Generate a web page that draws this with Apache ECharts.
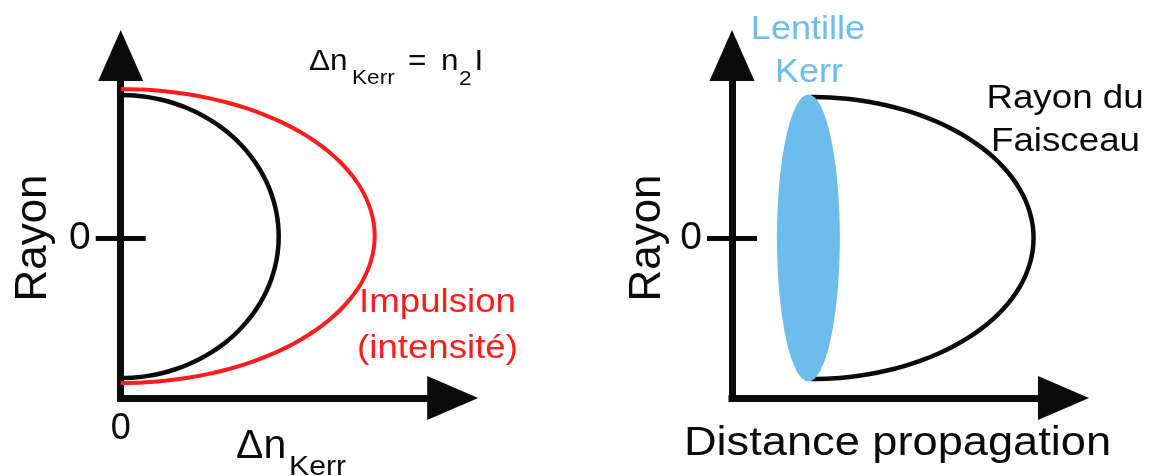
<!DOCTYPE html>
<html>
<head>
<meta charset="utf-8">
<script src="https://cdn.jsdelivr.net/npm/echarts@6/dist/echarts.min.js"></script>
<style>
html,body{margin:0;padding:0;background:#ffffff;}
#chart{width:1149px;height:476px;}
</style>
</head>
<body>
<div id="chart"></div>
<script>
// ---------- data (arbitrary units) ----------
// Left panel, black curve: refractive index change (x) versus radius (y)
const kerrRadius = [1.430, 1.425, 1.409, 1.382, 1.345, 1.297, 1.240, 1.174, 1.099, 1.016, 0.925, 0.827, 0.723, 0.613, 0.499, 0.381, 0.261, 0.138, 0.015,
                    -0.108, -0.231, -0.351, -0.469, -0.583, -0.693, -0.797, -0.895, -0.986, -1.069, -1.144, -1.210, -1.267, -1.315, -1.352, -1.379, -1.395, -1.400];
const kerrIndex  = [0.000, 0.138, 0.274, 0.409, 0.540, 0.668, 0.790, 0.906, 1.016, 1.117, 1.210, 1.294, 1.368, 1.432, 1.485, 1.526, 1.556, 1.574, 1.580,
                    1.574, 1.556, 1.526, 1.485, 1.432, 1.368, 1.294, 1.210, 1.117, 1.016, 0.906, 0.790, 0.668, 0.540, 0.409, 0.274, 0.138, 0.000];
// Left panel, red curve: pulse intensity profile
const pulseRadius = [1.490, 1.484, 1.468, 1.440, 1.401, 1.352, 1.293, 1.224, 1.146, 1.059, 0.965, 0.863, 0.755, 0.641, 0.523, 0.400, 0.275, 0.148, 0.020,
                     -0.108, -0.235, -0.360, -0.483, -0.601, -0.715, -0.823, -0.925, -1.019, -1.106, -1.184, -1.253, -1.312, -1.361, -1.400, -1.428, -1.444, -1.450];
const pulseValue  = [0.000, 0.221, 0.441, 0.657, 0.869, 1.073, 1.270, 1.457, 1.633, 1.796, 1.946, 2.081, 2.200, 2.302, 2.387, 2.453, 2.501, 2.530, 2.540,
                     2.530, 2.501, 2.453, 2.387, 2.302, 2.200, 2.081, 1.946, 1.796, 1.633, 1.457, 1.270, 1.073, 0.869, 0.657, 0.441, 0.221, 0.000];
// Right panel: beam radius versus propagation distance
const beamRadius   = [1.410, 1.405, 1.389, 1.362, 1.325, 1.278, 1.221, 1.155, 1.080, 0.997, 0.906, 0.809, 0.705, 0.596, 0.482, 0.365, 0.245, 0.123, 0.000,
                      -0.123, -0.245, -0.365, -0.482, -0.596, -0.705, -0.809, -0.906, -0.997, -1.080, -1.155, -1.221, -1.278, -1.325, -1.362, -1.389, -1.405, -1.410];
const beamDistance = [0.790, 0.984, 1.177, 1.367, 1.553, 1.732, 1.905, 2.069, 2.223, 2.367, 2.498, 2.617, 2.721, 2.811, 2.886, 2.944, 2.986, 3.012, 3.020,
                      3.012, 2.986, 2.944, 2.886, 2.811, 2.721, 2.617, 2.498, 2.367, 2.223, 2.069, 1.905, 1.732, 1.553, 1.367, 1.177, 0.984, 0.790];
// Kerr lens: [centre distance, centre radius, half width, half height]
const kerrLens     = [[0.765, 0.0, 0.315, 1.435]];
// tick values shown on the axes
const radiusTicks  = [0];
const indexTicks   = [0];
const tickLabels   = ['0'];

// ---------- styling ----------
const FONT = '"Liberation Sans", Arial, Helvetica, sans-serif';
const INK = '#0b0b0b';
const RED = '#ff1c1c';
const BLUE = '#6dbcec';
const Y_MIN = -1.60, Y_MAX = 1.825, X_MAX = 3.32;

function pairs(xs, ys) { return xs.map((x, i) => [x, ys[i]]); }

function txt(text, x, y, size, o) {
  o = o || {};
  return {
    type: 'text', x: x, y: y,
    scaleX: o.sx || 1, scaleY: o.sy || 1,
    rotation: o.rot || 0,
    z: 100,
    style: {
      text: text, fontSize: size, fontFamily: FONT,
      fill: o.fill || INK, align: o.align || 'left', verticalAlign: 'middle'
    }
  };
}

function xAxisCfg(gridIndex, showLabel) {
  return {
    type: 'value', gridIndex: gridIndex, min: 0, max: X_MAX,
    axisLine: { show: true, onZero: false, symbol: ['none', 'triangle'], symbolSize: [44, 51],
      lineStyle: { color: INK, width: 7, cap: 'square' } },
    axisTick: { show: false },
    splitLine: { show: false },
    axisLabel: { show: showLabel, customValues: indexTicks, formatter: (v) => tickLabels[0],
      fontSize: 36, fontFamily: FONT, color: INK, margin: 13 }
  };
}
function yAxisMain(gridIndex) {
  return {
    type: 'value', gridIndex: gridIndex, min: Y_MIN, max: Y_MAX, position: 'left', offset: 0,
    axisLine: { show: true, onZero: false, symbol: ['none', 'triangle'], symbolSize: [45, 51],
      lineStyle: { color: INK, width: 7, cap: 'square' } },
    axisTick: { show: true, customValues: radiusTicks, length: 25, lineStyle: { color: INK, width: 5 } },
    splitLine: { show: false },
    axisLabel: { show: true, customValues: radiusTicks, formatter: (v) => tickLabels[0],
      fontSize: 39, fontFamily: FONT, color: INK, margin: 30 }
  };
}
function yAxisInner(gridIndex) {
  return {
    type: 'value', gridIndex: gridIndex, min: Y_MIN, max: Y_MAX, position: 'left', offset: 0,
    axisLine: { show: false, onZero: false },
    axisTick: { show: true, inside: true, customValues: radiusTicks, length: 25, lineStyle: { color: INK, width: 5 } },
    splitLine: { show: false },
    axisLabel: { show: false }
  };
}

const chart = echarts.init(document.getElementById('chart'), null, { renderer: 'canvas' });

const option = {
  backgroundColor: '#ffffff',
  animation: false,
  grid: [
    { left: 120.7, top: 55.5, width: 332, height: 342.5, containLabel: false },
    { left: 732, top: 55.5, width: 331.5, height: 342.5, containLabel: false }
  ],
  xAxis: [xAxisCfg(0, true), xAxisCfg(1, false)],
  yAxis: [yAxisMain(0), yAxisInner(0), yAxisMain(1), yAxisInner(1)],
  series: [
    {
      name: 'Impulsion', type: 'line', xAxisIndex: 0, yAxisIndex: 0,
      data: pairs(pulseValue, pulseRadius), smooth: 0.3, symbol: 'none', clip: false,
      lineStyle: { color: RED, width: 4, join: 'round' }, z: 3
    },
    {
      name: 'Kerr', type: 'line', xAxisIndex: 0, yAxisIndex: 0,
      data: pairs(kerrIndex, kerrRadius), smooth: 0.3, symbol: 'none', clip: false,
      lineStyle: { color: INK, width: 4.5, join: 'round' }, z: 4
    },
    {
      name: 'Lentille', type: 'custom', xAxisIndex: 1, yAxisIndex: 2, clip: false,
      data: kerrLens,
      renderItem: function (params, api) {
        const c = api.coord([api.value(0), api.value(1)]);
        const s = api.size([api.value(2), api.value(3)]);
        return {
          type: 'circle', x: c[0], y: c[1], scaleX: s[0] / 100, scaleY: s[1] / 100,
          shape: { cx: 0, cy: 0, r: 100 },
          style: { fill: BLUE, stroke: null }
        };
      },
      z: 3
    },
    {
      name: 'Faisceau', type: 'line', xAxisIndex: 1, yAxisIndex: 2,
      data: pairs(beamDistance, beamRadius), smooth: 0.3, symbol: 'none', clip: false,
      lineStyle: { color: INK, width: 4.5, join: 'round' }, z: 2
    }
  ],
  graphic: [
    // left panel texts
    txt('Rayon', 34, 238, 44, { rot: Math.PI / 2, align: 'center' }),
    txt('Δn', 309, 62, 30, { sx: 1.05 }),
    txt('Kerr', 352, 78.5, 20, { sx: 1.13 }),
    txt('=', 408, 62, 30, { sx: 1.05 }),
    txt('n', 441, 62, 30, { sx: 1.05 }),
    txt('2', 459, 79, 20, { sx: 1.13 }),
    txt('I', 474.5, 62, 30, { sx: 1.05 }),
    txt('Impulsion', 437.5, 302.5, 33, { sx: 1.11, align: 'center', fill: RED }),
    txt('(intensité)', 437.5, 349, 33, { sx: 1.11, align: 'center', fill: RED }),
    txt('Δn', 236, 447, 41, {}),
    txt('Kerr', 289, 467.5, 28, { sx: 1.08 }),
    // right panel texts
    txt('Rayon', 648, 238, 44, { rot: Math.PI / 2, align: 'center' }),
    txt('Lentille', 808, 30.5, 32.5, { sx: 1.11, align: 'center', fill: BLUE }),
    txt('Kerr', 809, 73, 32.5, { sx: 1.11, align: 'center', fill: BLUE }),
    txt('Rayon du', 1065, 99.5, 32.5, { sx: 1.13, align: 'center' }),
    txt('Faisceau', 1065.5, 142.5, 32.5, { sx: 1.13, align: 'center' }),
    txt('Distance propagation', 897.5, 443.5, 40, { sx: 1.13, align: 'center' })
  ]
};
chart.setOption(option);
</script>
</body>
</html>
